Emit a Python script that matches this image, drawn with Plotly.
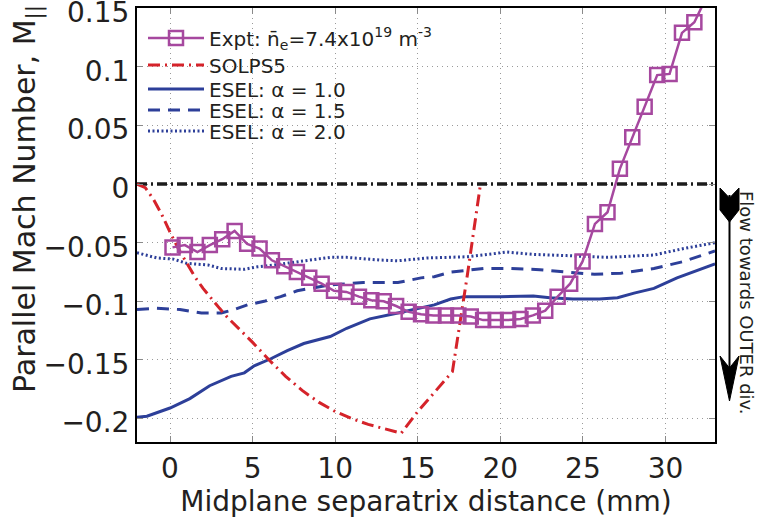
import plotly.graph_objects as go

# ---------------- data ----------------
EXPT_X = [0.15, 0.90, 1.66, 2.41, 3.16, 3.91, 4.67, 5.42, 6.17, 6.92, 7.68, 8.43, 9.18,
          9.93, 10.68, 11.44, 12.19, 12.94, 13.69, 14.45, 15.2, 15.95, 16.71, 17.46,
          18.21, 18.96, 19.72, 20.47, 21.22, 21.97, 22.72, 23.47, 24.23, 24.98, 25.73,
          26.49, 27.24, 27.99, 28.74, 29.5, 30.25, 31.0, 31.75, 32.5]
EXPT_Y = [-0.054, -0.052, -0.058, -0.052, -0.047, -0.040, -0.051, -0.055, -0.065, -0.070,
          -0.075, -0.080, -0.085, -0.091, -0.092, -0.096, -0.099, -0.100, -0.104, -0.109,
          -0.111, -0.112, -0.112, -0.112, -0.113, -0.116, -0.116, -0.116, -0.115, -0.112,
          -0.108, -0.096, -0.085, -0.066, -0.034, -0.024, 0.013, 0.040, 0.066, 0.093,
          0.094, 0.129, 0.138, 0.160]

SOLPS_X = [-2.0, -1.5, -1.0, -0.5, 0.0, 0.5, 1.0, 1.5, 2.0, 2.5, 3.0, 3.5, 4.0, 5.0, 6.0,
           7.0, 8.0, 9.0, 10.0, 11.0, 12.0, 13.0, 14.0, 15.0, 16.0, 17.1, 18.0, 18.8]
SOLPS_Y = [0.0, -0.003, -0.013, -0.026, -0.041, -0.055, -0.067, -0.079, -0.089, -0.098,
           -0.106, -0.114, -0.121, -0.135, -0.150, -0.164, -0.176, -0.186, -0.194, -0.200,
           -0.205, -0.209, -0.2125, -0.194, -0.178, -0.160, -0.078, 0.0]

ESEL10_X = [-2.0, -1.4, 0.0, 1.2, 2.4, 3.7, 4.5, 5.1, 6.1, 7.1, 8.1, 9.7, 10.7, 12.1, 13.8,
            15.4, 16.0, 17.0, 17.8, 20.0, 22.0, 23.0, 24.4, 26.0, 27.1, 28.1, 29.3, 30.7,
            32.1, 33.0]
ESEL10_Y = [-0.199, -0.198, -0.191, -0.183, -0.172, -0.164, -0.161, -0.155, -0.149, -0.142,
            -0.136, -0.130, -0.123, -0.115, -0.110, -0.105, -0.103, -0.098, -0.096, -0.096,
            -0.0955, -0.097, -0.098, -0.098, -0.097, -0.093, -0.089, -0.080, -0.073, -0.068]

ESEL15_X = [-2.0, -0.8, 0.6, 1.9, 3.1, 3.9, 4.7, 5.7, 6.7, 7.7, 8.9, 9.7, 11.7, 13.8, 15.2,
            16.0, 17.0, 19.0, 20.6, 22.4, 24.0, 25.7, 27.3, 29.3, 31.1, 33.0]
ESEL15_Y = [-0.107, -0.106, -0.107, -0.110, -0.110, -0.107, -0.103, -0.100, -0.096, -0.091,
            -0.088, -0.086, -0.084, -0.084, -0.080, -0.079, -0.075, -0.072, -0.072, -0.073,
            -0.075, -0.077, -0.076, -0.072, -0.066, -0.057]

ESEL20_X = [-2.0, -0.8, 0.2, 1.0, 2.3, 3.1, 4.5, 5.3, 6.3, 7.7, 8.9, 9.7, 10.7, 12.7, 13.8,
            15.6, 18.0, 20.4, 22.0, 24.0, 26.5, 29.3, 31.1, 33.0]
ESEL20_Y = [-0.0586, -0.063, -0.064, -0.0676, -0.069, -0.072, -0.0727, -0.0705, -0.069,
            -0.066, -0.064, -0.0625, -0.0625, -0.0648, -0.0654, -0.063, -0.062, -0.058,
            -0.060, -0.061, -0.0625, -0.0605, -0.055, -0.050]

ZERO_X = [-2.0, 33.0]
ZERO_Y = [0.0, 0.0]

X_TICKS = [0, 5, 10, 15, 20, 25, 30]
X_TICKTEXT = ["0", "5", "10", "15", "20", "25", "30"]
Y_TICKS = [0.15, 0.1, 0.05, 0, -0.05, -0.1, -0.15, -0.2]
Y_TICKTEXT = ["0.15", "0.1", "0.05", "0", "\u22120.05", "\u22120.1", "\u22120.15", "\u22120.2"]

NAMES = ["Expt: n\u0304<sub>e</sub>=7.4x10<sup>19</sup> m<sup>-3</sup>",
         "SOLPS5", "ESEL: \u03b1 = 1.0", "ESEL: \u03b1 = 1.5", "ESEL: \u03b1 = 2.0"]
X_TITLE = "Midplane separatrix distance (mm)"
Y_TITLE = "Parallel Mach Number, M<sub>||</sub>"
SIDE_NOTE = "Flow towards OUTER div."

# ---------------- style ----------------
FONT = "DejaVu Sans, Liberation Sans, Arial, sans-serif"
TXT = "#231f20"
BLUE = "#2d3f99"
MAGENTA = "#a6489f"
RED = "#d5232a"

L, R, T, B = 137, 715, 8, 442
W, H = R - L, B - T
def px(xp):
    return (xp - L) / W
def py(yp):
    return (B - yp) / H

fig = go.Figure()

fig.add_trace(go.Scatter(x=ZERO_X, y=ZERO_Y, mode="lines", showlegend=False,
                         hoverinfo="skip",
                         line=dict(color="#1c1c1c", width=3.5, dash="10px,4px,2px,4px")))

fig.add_trace(go.Scatter(x=ESEL20_X, y=ESEL20_Y, mode="lines", name=NAMES[4], legend="legend5",
                         line=dict(color=BLUE, width=3, dash="2px,2.5px")))
fig.add_trace(go.Scatter(x=ESEL15_X, y=ESEL15_Y, mode="lines", name=NAMES[3], legend="legend4",
                         line=dict(color=BLUE, width=3, dash="12px,8px")))
fig.add_trace(go.Scatter(x=ESEL10_X, y=ESEL10_Y, mode="lines", name=NAMES[2], legend="legend3",
                         line=dict(color=BLUE, width=3)))
fig.add_trace(go.Scatter(x=SOLPS_X, y=SOLPS_Y, mode="lines", name=NAMES[1], legend="legend2",
                         line=dict(color=RED, width=3, dash="12px,5px,2px,5px")))
fig.add_trace(go.Scatter(x=EXPT_X, y=EXPT_Y, mode="lines+markers", name=NAMES[0], legend="legend",
                         line=dict(color=MAGENTA, width=2.5),
                         marker=dict(symbol="square-open", size=14, color=MAGENTA,
                                     line=dict(width=2.5, color=MAGENTA))))

ROW_Y = [38, 65, 89, 110, 131]
def leg(row):
    return dict(x=px(143), y=py(ROW_Y[row]), xanchor="left", yanchor="middle",
                bgcolor="rgba(0,0,0,0)", borderwidth=0, itemwidth=56,
                font=dict(size=20, family=FONT, color=TXT))

cx = 729.5
shaft = f"M{px(cx)},{py(195)} L{px(cx)},{py(380)}"
head = (f"M{px(cx-9.5)},{py(356)} L{px(cx)},{py(368)} L{px(cx+9.5)},{py(356)} "
        f"L{px(cx)},{py(401)} Z")
flet = (f"M{px(cx-9.5)},{py(188)} L{px(cx)},{py(198)} L{px(cx+9.5)},{py(188)} "
        f"L{px(cx+9.5)},{py(210)} L{px(cx)},{py(222)} L{px(cx-9.5)},{py(210)} Z")

fig.update_layout(
    width=761, height=526,
    margin=dict(l=L, r=761 - R, t=T, b=526 - B, autoexpand=False),
    paper_bgcolor="white", plot_bgcolor="white",
    font=dict(family=FONT, color=TXT),
    showlegend=True,
    legend=leg(0), legend2=leg(1), legend3=leg(2), legend4=leg(3), legend5=leg(4),
    shapes=[
        dict(type="path", xref="paper", yref="paper", path=shaft,
             line=dict(color="black", width=2)),
        dict(type="path", xref="paper", yref="paper", path=head,
             fillcolor="black", line=dict(color="black", width=1)),
        dict(type="path", xref="paper", yref="paper", path=flet,
             fillcolor="black", line=dict(color="black", width=1)),
    ],
    annotations=[
        dict(text=SIDE_NOTE, xref="paper", yref="paper",
             x=px(747), y=py(303), textangle=90, showarrow=False,
             font=dict(size=18, family=FONT, color=TXT),
             xanchor="center", yanchor="middle"),
        dict(text=Y_TITLE, xref="paper", yref="paper",
             x=px(27), y=py(199), textangle=-90, showarrow=False,
             font=dict(size=30, family=FONT, color=TXT),
             xanchor="center", yanchor="middle"),
    ],
)

fig.update_xaxes(range=[-2, 33], tickvals=X_TICKS, ticktext=X_TICKTEXT,
                 showgrid=True, gridcolor="#9a9a9a", gridwidth=1, griddash="1px,4px",
                 zeroline=False, showline=True, linecolor="black", linewidth=2,
                 mirror="ticks", ticks="inside", ticklen=6, tickcolor="#8a8a8a",
                 tickfont=dict(size=28, family=FONT, color=TXT),
                 title=dict(text=X_TITLE, font=dict(size=28, family=FONT, color=TXT),
                            standoff=4))
fig.update_yaxes(range=[-0.22, 0.1502], tickvals=Y_TICKS, ticktext=Y_TICKTEXT,
                 showgrid=True, gridcolor="#9a9a9a", gridwidth=1, griddash="1px,4px",
                 zeroline=False, showline=True, linecolor="black", linewidth=2,
                 mirror="ticks", ticks="inside", ticklen=6, tickcolor="#8a8a8a",
                 tickfont=dict(size=28, family=FONT, color=TXT), ticklabelshift=4,
                 ticklabeloverflow="allow")

fig.write_html("out.html", config={"displayModeBar": False},
               post_script="document.body.style.margin='0';")
